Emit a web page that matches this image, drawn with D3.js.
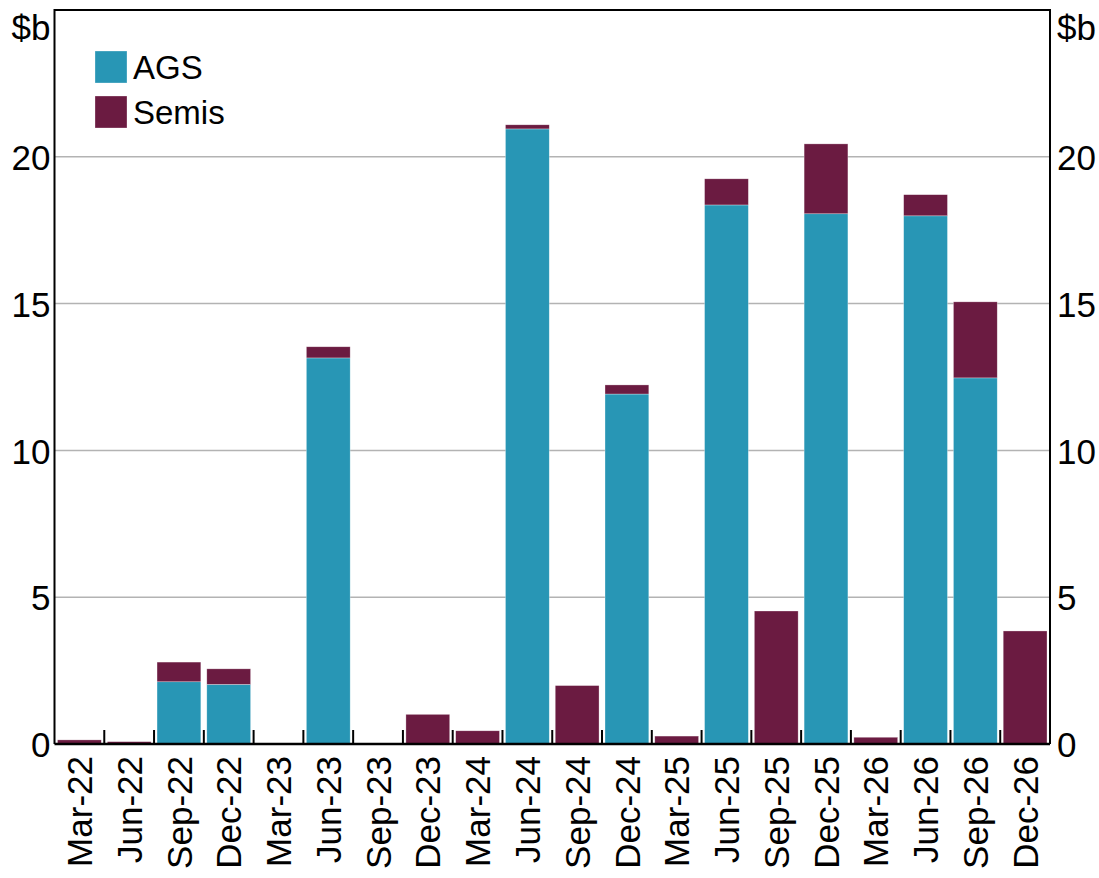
<!DOCTYPE html>
<html>
<head>
<meta charset="utf-8">
<script src="https://cdn.jsdelivr.net/npm/d3@7"></script>
<style>
  body { margin: 0; background: #fff; }
  svg text { font-family: Arial, 'Liberation Sans', sans-serif; fill: #000; }
</style>
</head>
<body>
<svg id="chart" width="1099" height="878"></svg>
<script>
// quarters
const categories = ['Mar-22','Jun-22','Sep-22','Dec-22','Mar-23','Jun-23','Sep-23','Dec-23','Mar-24','Jun-24',
  'Sep-24','Dec-24','Mar-25','Jun-25','Sep-25','Dec-25','Mar-26','Jun-26','Sep-26','Dec-26']
// $b
const ags =   [0, 0, 2.12, 2.03, 0, 13.15, 0, 0, 0, 20.95, 0, 11.92, 0, 18.36, 0, 18.06, 0, 17.99, 12.47, 0]
const semis = [0.14, 0.08, 0.67, 0.53, 0, 0.38, 0.03, 1.01, 0.45, 0.14, 1.99, 0.31, 0.27, 0.89, 4.53, 2.38, 0.23, 0.72, 2.59, 3.85]
const yTicks = [0, 5, 10, 15, 20]
const seriesNames = ['AGS', 'Semis']
const colors = { AGS: '#2896b5', Semis: '#6b1b41' }

const FONT = '35px'

const svg = d3.select('#chart')
const margin = { left: 54.5, right: 49, top: 10, bottom: 134 }
const W = 1099, H = 878

const x = d3.scaleBand()
  .domain(categories)
  .range([margin.left, W - margin.right])
  .paddingInner(0.12)
  .paddingOuter(0.06)

const y = d3.scaleLinear().domain([0, 25]).range([H - margin.bottom, margin.top])

const rows = categories.map((c, i) => ({ cat: c, AGS: ags[i], Semis: semis[i] }))
const stacked = d3.stack().keys(seriesNames)(rows)

// gridlines
svg.append('g')
  .selectAll('line')
  .data(yTicks.filter(d => d > 0))
  .join('line')
  .attr('x1', margin.left).attr('x2', W - margin.right)
  .attr('y1', d => y(d)).attr('y2', d => y(d))
  .attr('stroke', '#b3b3b3').attr('stroke-width', 1.5)

// bars
svg.append('g')
  .selectAll('g')
  .data(stacked)
  .join('g')
  .attr('fill', d => colors[d.key])
  .selectAll('rect')
  .data(d => d.filter(p => p[1] - p[0] > 0))
  .join('rect')
  .attr('x', d => x(d.data.cat))
  .attr('width', x.bandwidth())
  .attr('y', d => y(d[1]))
  .attr('height', d => y(d[0]) - y(d[1]))
  .attr('stroke', '#fff').attr('stroke-width', 0.6).attr('stroke-opacity', 0.5)

// frame
const x0 = margin.left, x1 = W - margin.right, yTop = margin.top, yBot = H - margin.bottom
svg.append('path')
  .attr('d', `M${x0},${yBot}V${yTop}H${x1}V${yBot}`)
  .attr('fill', 'none').attr('stroke', '#000').attr('stroke-width', 2)
svg.append('line')
  .attr('x1', x0).attr('x2', x1).attr('y1', yBot).attr('y2', yBot)
  .attr('stroke', '#000').attr('stroke-width', 2.5)

// category ticks between bands
const bounds = d3.range(1, categories.length).map(i => x0 + (x1 - x0) * i / categories.length)
svg.append('g')
  .selectAll('line')
  .data(bounds)
  .join('line')
  .attr('x1', d => d).attr('x2', d => d)
  .attr('y1', yBot - 14).attr('y2', yBot)
  .attr('stroke', '#000').attr('stroke-width', 2)

// y axes left and right
const yAxisL = d3.axisLeft(y).tickValues(yTicks).tickSize(0).tickPadding(4)
const yAxisR = d3.axisRight(y).tickValues(yTicks).tickSize(0).tickPadding(7)
svg.append('g').attr('transform', `translate(${x0},0)`).call(yAxisL)
  .call(g => g.select('.domain').remove())
  .selectAll('text').style('font-size', FONT).attr('dy', '0.36em')
svg.append('g').attr('transform', `translate(${x1},0)`).call(yAxisR)
  .call(g => g.select('.domain').remove())
  .selectAll('text').style('font-size', FONT).attr('dy', '0.36em')

svg.append('text').attr('x', x0 - 4).attr('y', 40).attr('text-anchor', 'end')
  .style('font-size', FONT).text('$b')
svg.append('text').attr('x', x1 + 7).attr('y', 40).attr('text-anchor', 'start')
  .style('font-size', FONT).text('$b')

// x labels rotated
const xAxis = d3.axisBottom(x).tickSize(0).tickPadding(0)
svg.append('g').attr('transform', `translate(0,${yBot})`).call(xAxis)
  .call(g => g.select('.domain').remove())
  .selectAll('text')
  .style('font-size', FONT)
  .attr('text-anchor', 'end')
  .attr('transform', 'rotate(-90)')
  .attr('x', -12).attr('y', 0).attr('dy', '0.36em')

// legend
const legend = svg.append('g').attr('transform', 'translate(95,51)')
seriesNames.forEach((s, i) => {
  legend.append('rect').attr('x', 0).attr('y', i * 45).attr('width', 32).attr('height', 32)
    .attr('fill', colors[s]).attr('stroke', '#fff').attr('stroke-width', 0.6).attr('stroke-opacity', 0.5)
  legend.append('text').attr('x', 38).attr('y', i * 45 + 16).attr('dy', '0.37em')
    .style('font-size', '33px').text(s)
})
</script>
</body>
</html>
